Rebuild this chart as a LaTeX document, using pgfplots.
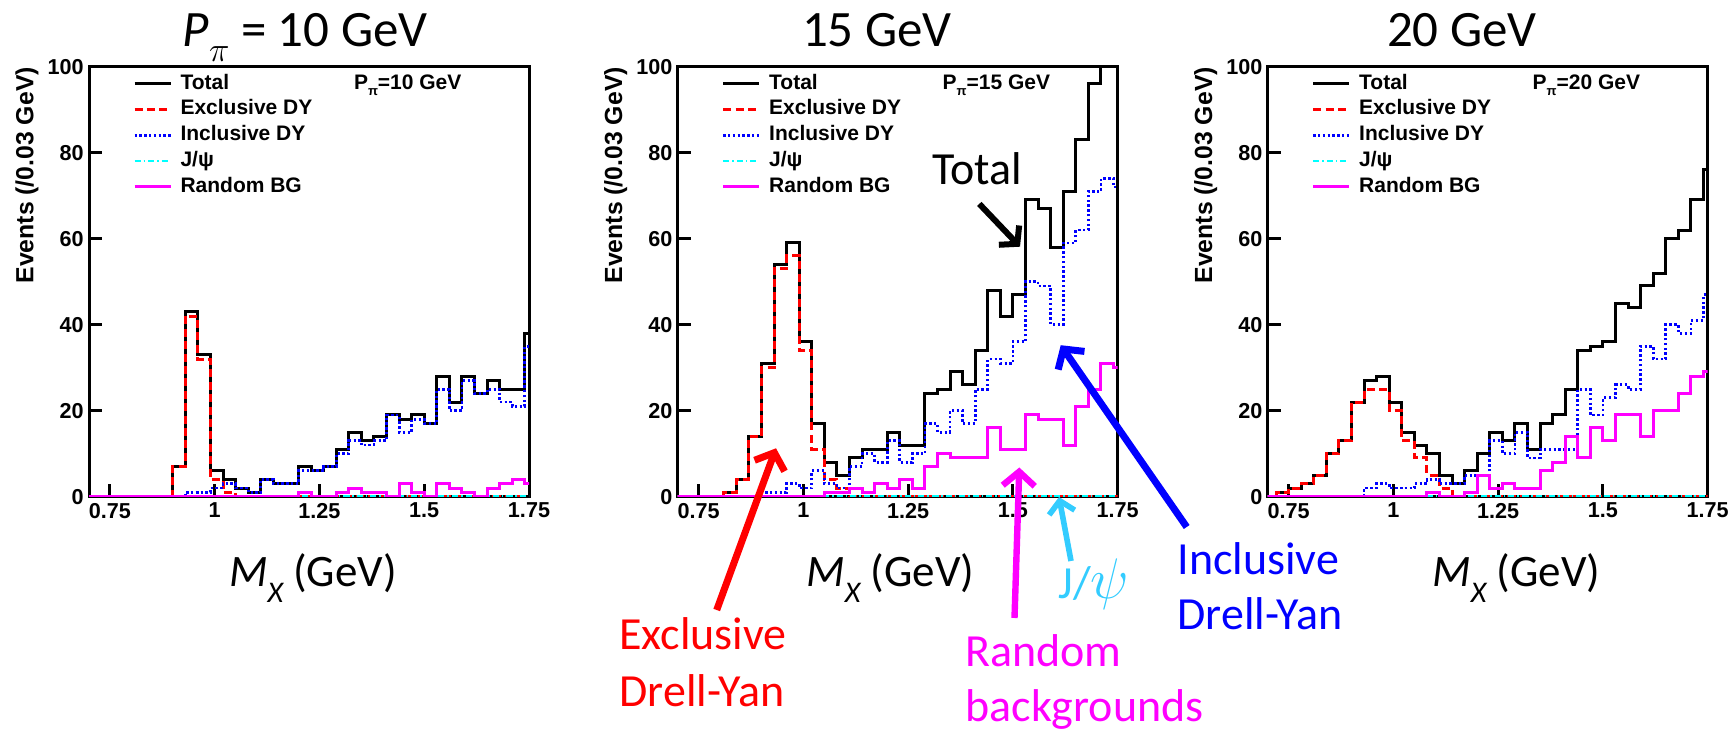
\documentclass[border=0pt]{standalone}
\usepackage{fontspec}
\setmainfont{Liberation Sans}
\newfontfamily\calib{Carlito}
\usepackage{pgfplots}
\pgfplotsset{compat=1.18}
\usepackage{pgfplotstable}
\usetikzlibrary{arrows.meta}
\definecolor{jpsiblue}{RGB}{51,204,255}
\definecolor{mag}{RGB}{255,0,255}
\definecolor{cyn}{RGB}{0,255,255}
\definecolor{rd}{RGB}{255,0,0}
\definecolor{bl}{RGB}{0,0,255}

\pgfplotstableread{
x tot excl incl jpsi rnd
0.69 0 0 0 0 0
0.72 0 0 0 0 0
0.75 0 0 0 0 0
0.78 0 0 0 0 0
0.81 0 0 0 0 0
0.84 0 0 0 0 0
0.87 0 0 0 0 0
0.90 7 7 0 0 0
0.93 43 42 1 0 0
0.96 33 32 1 0 0
0.99 6 4 2 0 0
1.02 4 1 3 0 0
1.05 2 0 2 0 0
1.08 1 0 1 0 0
1.11 4 0 4 0 0
1.14 3 0 3 0 0
1.17 3 0 3 0 0
1.20 7 0 6 0 1
1.23 6 0 6 0 0
1.26 7 0 7 0 0
1.29 11 0 10 0 1
1.32 15 0 13 0 2
1.35 13 0 12 0 1
1.38 14 0 13 0 1
1.41 19 0 19 0 0
1.44 18 0 15 0 3
1.47 19 0 18 0 1
1.50 17 0 17 0 0
1.53 28 0 25 0 3
1.56 22 0 20 0 2
1.59 28 0 27 0 1
1.62 24 0 24 0 0
1.65 27 0 25 0 2
1.68 25 0 22 0 3
1.71 25 0 21 0 4
1.74 38 0 35 0 3
1.77 38 0 35 0 3
}\tabA

\pgfplotstableread{
x tot excl incl jpsi rnd
0.69 0 0 0 0 0
0.72 0 0 0 0 0
0.75 0 0 0 0 0
0.78 0 0 0 0 0
0.81 1 1 0 0 0
0.84 4 4 0 0 0
0.87 14 14 0 0 0
0.90 31 30 1 0 0
0.93 54 53 1 0 0
0.96 59 56 3 0 0
0.99 36 34 2 0 0
1.02 17 11 6 0 0
1.05 8 4 3 0 1
1.08 5 2 2 0 1
1.11 9 0 7 0 2
1.14 11 0 10 0 1
1.17 11 0 8 0 3
1.20 15 0 13 0 2
1.23 12 0 8 0 4
1.26 12 0 10 0 2
1.29 24 0 17 0 7
1.32 25 0 15 0 10
1.35 29 0 20 0 9
1.38 26 0 17 0 9
1.41 34 0 25 0 9
1.44 48 0 32 0 16
1.47 42 0 31 0 11
1.50 47 0 36 0 11
1.53 69 0 50 0 19
1.56 67 0 49 0 18
1.59 58 0 40 0 18
1.62 71 0 59 0 12
1.65 83 0 62 0 21
1.68 96 0 71 0 25
1.71 105 0 74 0 31
1.74 102 0 72 0 30
1.77 102 0 72 0 30
}\tabB

\pgfplotstableread{
x tot excl incl jpsi rnd
0.69 0 0 0 0 0
0.72 1 1 0 0 0
0.75 2 2 0 0 0
0.78 3 3 0 0 0
0.81 5 5 0 0 0
0.84 10 10 0 0 0
0.87 13 13 0 0 0
0.90 22 22 0 0 0
0.93 27 25 2 0 0
0.96 28 25 3 0 0
0.99 22 20 2 0 0
1.02 15 13 2 0 0
1.05 12 9 3 0 0
1.08 10 5 4 0 1
1.11 5 2 3 0 0
1.14 3 0 3 0 0
1.17 6 0 5 0 1
1.20 10 0 5 0 5
1.23 15 0 13 0 2
1.26 13 0 10 0 3
1.29 17 0 15 0 2
1.32 11 0 9 0 2
1.35 17 0 11 0 6
1.38 19 0 11 0 8
1.41 25 0 11 0 14
1.44 34 0 25 0 9
1.47 35 0 19 0 16
1.50 36 0 23 0 13
1.53 45 0 26 0 19
1.56 44 0 25 0 19
1.59 49 0 35 0 14
1.62 52 0 32 0 20
1.65 60 0 40 0 20
1.68 62 0 38 0 24
1.71 69 0 41 0 28
1.74 76 0 47 0 29
1.77 76 0 47 0 29
}\tabC

\pgfplotsset{
  myaxis/.style={
    scale only axis, width=220pt, height=215pt, anchor=south west,
    xmin=0.7, xmax=1.75, ymin=0, ymax=100,
    axis line style={line width=1.5pt},
    xtick={0.75,1,1.25,1.5,1.75},
    xticklabels={0.75,1,1.25,1.5,1.75},
    ytick={0,20,40,60,80,100},
    yticklabels={0,20,40,60,80,100},
    tick align=inside, tick pos=left,
    major tick length=6.5pt,
    every tick/.style={line width=1.5pt, black},
    ticklabel style={font=\bfseries\fontsize{10.8}{12}\selectfont},
    xticklabel style={inner sep=1pt, yshift=-2pt},
    yticklabel style={inner sep=1pt, xshift=-1.5pt},
    legend style={draw=none, fill=none, at={(rel axis cs:0.1,0.985)}, anchor=north west,
      inner sep=0pt, outer sep=0pt,
      font=\bfseries\fontsize{10.5}{12}\selectfont, row sep=2.4pt, column sep=4.25pt,
      nodes={inner sep=0pt, outer sep=0pt, text height=8pt, text depth=2.5pt}},
    legend cell align=left,
    legend image code/.code={\draw[##1] (0pt,0pt) -- (18pt,0pt);},
  },
  ptot/.style={black, line width=1.5pt, const plot},
  pexc/.style={rd, line width=1.5pt, const plot, dash pattern=on 4pt off 2.2pt},
  pinc/.style={bl, line width=1.4pt, const plot, dash pattern=on 1.2pt off 1.2pt},
  pjps/.style={cyn, line width=1.4pt, const plot, dash pattern=on 3pt off 1.5pt on 0.8pt off 1.5pt},
  prnd/.style={mag, line width=1.5pt, const plot},
}

\newcommand{\ylab}[1]{\node[rotate=90, anchor=east, inner sep=0pt, font=\bfseries\fontsize{12.4}{14}\selectfont] at (#1,333.15pt) {Events (/0.03 GeV)};}
\newcommand{\ppi}[1]{\node[anchor=base west, inner sep=0pt, font=\bfseries\fontsize{10.5}{12}\selectfont] at (rel axis cs:0.6014,0.948) {P\raisebox{-0.55ex}{\fontsize{6.5}{7}\selectfont π}=#1 GeV};}
\newcommand{\mx}{{\calib\fontsize{22.5}{26}\selectfont\itshape M\raisebox{-0.35em}{\fontsize{15}{16}\selectfont X}\upshape\ (GeV)}}

\begin{document}
\begin{tikzpicture}
\path[use as bounding box] (0,0) rectangle (864.5pt,366.5pt);

\begin{axis}[myaxis, at={(44.5pt,118.15pt)}]
\addplot[ptot] table[x=x,y=tot]{\tabA};
\addplot[pexc] table[x=x,y=excl]{\tabA};
\addplot[pinc] table[x=x,y=incl]{\tabA};
\addplot[pjps] table[x=x,y=jpsi]{\tabA};
\addplot[prnd] table[x=x,y=rnd]{\tabA};
\legend{Total, Exclusive DY, Inclusive DY, J/ψ, Random BG}
\ppi{10}
\end{axis}

\begin{axis}[myaxis, at={(338.85pt,118.15pt)}]
\addplot[ptot] table[x=x,y=tot]{\tabB};
\addplot[pexc] table[x=x,y=excl]{\tabB};
\addplot[pinc] table[x=x,y=incl]{\tabB};
\addplot[pjps] table[x=x,y=jpsi]{\tabB};
\addplot[prnd] table[x=x,y=rnd]{\tabB};
\legend{Total, Exclusive DY, Inclusive DY, J/ψ, Random BG}
\ppi{15}
\end{axis}

\begin{axis}[myaxis, at={(633.85pt,118.15pt)}]
\addplot[ptot] table[x=x,y=tot]{\tabC};
\addplot[pexc] table[x=x,y=excl]{\tabC};
\addplot[pinc] table[x=x,y=incl]{\tabC};
\addplot[pjps] table[x=x,y=jpsi]{\tabC};
\addplot[prnd] table[x=x,y=rnd]{\tabC};
\legend{Total, Exclusive DY, Inclusive DY, J/ψ, Random BG}
\ppi{20}
\end{axis}

\ylab{13.5pt}
\ylab{307.85pt}
\ylab{602.85pt}

% titles
\node[anchor=base west, inner sep=0pt, font=\calib\fontsize{25.5}{30}\selectfont] at (91.15pt,343.3pt)
  {\itshape P\raisebox{-0.3em}{\fontsize{17}{18}\selectfont$\pi$}\upshape\ = 10 GeV};
\node[anchor=base west, inner sep=0pt, font=\calib\fontsize{25.5}{30}\selectfont] at (400.85pt,343.3pt) {15 GeV};
\node[anchor=base west, inner sep=0pt, font=\calib\fontsize{25.5}{30}\selectfont] at (693.35pt,343.3pt) {20 GeV};

% x labels
\node[anchor=base west, inner sep=0pt] at (114.35pt,73.15pt) {\mx};
\node[anchor=base west, inner sep=0pt] at (403pt,73.15pt) {\mx};
\node[anchor=base west, inner sep=0pt] at (716pt,73.15pt) {\mx};

% annotations
\node[anchor=base, inner sep=0pt, font=\calib\fontsize{23}{26}\selectfont] at (488.5pt,274.4pt) {Total};
\draw[black, line width=3pt, -{Straight Barb[length=6pt,width=14pt]}] (489.65pt,264.55pt) -- (510pt,243.15pt);

\draw[rd, line width=3.5pt, -{Straight Barb[length=7pt,width=16pt]}] (358.35pt,61.5pt) -- (388pt,142.35pt);
\node[anchor=base west, inner sep=0pt, text=rd, font=\calib\fontsize{23}{26}\selectfont] at (309.5pt,41.5pt) {Exclusive};
\node[anchor=base west, inner sep=0pt, text=rd, font=\calib\fontsize{23}{26}\selectfont] at (309.5pt,13.15pt) {Drell-Yan};

\draw[mag, line width=3.2pt, -{Straight Barb[length=7pt,width=16pt]}] (507.25pt,57.5pt) -- (509.65pt,132.75pt);
\node[anchor=base west, inner sep=0pt, text=mag, font=\calib\fontsize{23}{26}\selectfont] at (482.5pt,33pt) {Random};
\node[anchor=base west, inner sep=0pt, text=mag, font=\calib\fontsize{23}{26}\selectfont] at (482.5pt,5.5pt) {backgrounds};

\draw[jpsiblue, line width=2.8pt, -{Straight Barb[length=6pt,width=13pt]}] (535.5pt,86pt) -- (529.5pt,118pt);
\node[anchor=base west, inner sep=0pt, text=jpsiblue, font=\calib\fontsize{23}{26}\selectfont] at (529pt,67pt) {J/\scalebox{1.15}{$\psi$}};

\draw[bl, line width=3.5pt, -{Straight Barb[length=7pt,width=16pt]}] (593.35pt,103pt) -- (530.35pt,193.9pt);
\node[anchor=base west, inner sep=0pt, text=bl, font=\calib\fontsize{23}{26}\selectfont] at (588.5pt,79.35pt) {Inclusive};
\node[anchor=base west, inner sep=0pt, text=bl, font=\calib\fontsize{23}{26}\selectfont] at (588.5pt,51.85pt) {Drell-Yan};
\end{tikzpicture}
\end{document}
